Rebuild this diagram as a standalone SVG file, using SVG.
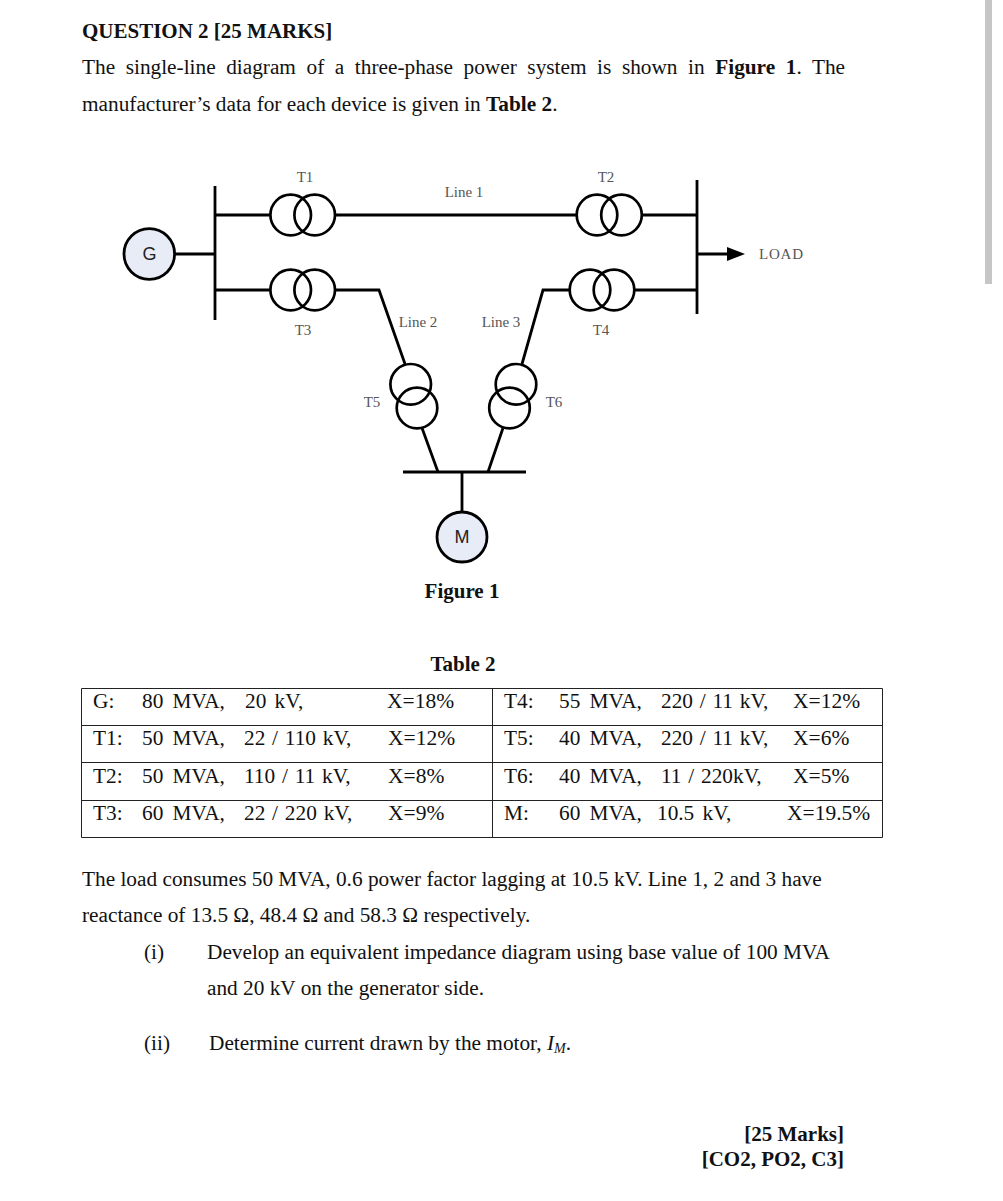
<svg xmlns="http://www.w3.org/2000/svg" width="1003" height="1201" viewBox="0 0 1003 1201">
<style>
text{font-family:"Liberation Serif","Times New Roman",serif;font-size:21.300px;fill:#111}
.b{font-weight:700}
.h{font-size:21px}
.l{font-size:15px;fill:#555}
.m{text-anchor:middle}
.s{font-family:"Liberation Sans",Arial,sans-serif;font-size:18px;fill:#222}
.w{fill:none;stroke:#000;stroke-width:2.800}
.c{fill:none;stroke:#000;stroke-width:2.700}
.n{fill:#e8ecf6;stroke:#000;stroke-width:2.800}
.t{stroke:#222;stroke-width:1;fill:none}
.v{word-spacing:4px}
.k{word-spacing:1.500px}
.u{word-spacing:3px}
.x{font-size:21.500px}
</style>
<rect width="1003" height="1201" fill="#fff"/>
<rect x="985" y="0" width="7" height="284" fill="#c6c6c6"/>
<g id="heading">
<text x="82" y="38" class="b h">QUESTION 2 [25 MARKS]</text>
<text x="82" y="74" word-spacing="5.250">The single-line diagram of a three-phase power system is shown in <tspan class="b">Figure 1</tspan>. The</text>
<text x="82" y="111">manufacturer’s data for each device is given in <tspan class="b">Table 2</tspan>.</text>
</g>
<g id="connectors">
<path class="w" d="M174 254H215M215 215H270M336 215H577M643 215H697M215 290H270M336 290H379L405 364M422 428L438 472M503 428L488 472M522 364L543 290H569M635 290H697M462 472V512M697 254H730"/>
<path d="M727 247L745 254L727 261Z" fill="#000"/>
</g>
<g id="bus-1"><path class="w" d="M215 186V320"/></g>
<g id="bus-2"><path class="w" d="M697 180V314"/></g>
<g id="bus-3"><path class="w" d="M403 472H526"/></g>
<g id="G"><circle class="n" cx="149.300" cy="254" r="25.300"/><text x="149.500" y="260" class="s m">G</text></g>
<g id="M"><circle class="n" cx="462" cy="537" r="25"/><text x="462" y="543" class="s m">M</text></g>
<g id="T1"><circle class="c" cx="290.700" cy="215" r="20.300"/><circle class="c" cx="314.700" cy="215" r="20.300"/><text x="305" y="182" class="l m">T1</text></g>
<g id="T2"><circle class="c" cx="597" cy="215" r="20.300"/><circle class="c" cx="621.500" cy="215" r="20.300"/><text x="606" y="182" class="l m">T2</text></g>
<g id="T3"><circle class="c" cx="290.700" cy="290" r="20.300"/><circle class="c" cx="314.700" cy="290" r="20.300"/><text x="303" y="335" class="l m">T3</text></g>
<g id="T4"><circle class="c" cx="590" cy="290" r="20.300"/><circle class="c" cx="614" cy="290" r="20.300"/><text x="601" y="335" class="l m">T4</text></g>
<g id="T5"><circle class="c" cx="410.700" cy="384.300" r="20.300"/><circle class="c" cx="417" cy="408" r="20.300"/><text x="372" y="407" class="l m">T5</text></g>
<g id="T6"><circle class="c" cx="516" cy="384.300" r="20.300"/><circle class="c" cx="509.500" cy="408" r="20.300"/><text x="554" y="407" class="l m">T6</text></g>
<g id="line-labels">
<text x="464" y="197" class="l m">Line 1</text>
<text x="418" y="327" class="l m">Line 2</text>
<text x="501" y="327" class="l m">Line 3</text>
<text x="759" y="259" class="l" textLength="44">LOAD</text>
</g>
<text x="462" y="598" class="b h m">Figure 1</text>
<text x="463" y="671" class="b h m">Table 2</text>
<g id="table">
<path class="t" d="M81.500 688.500H882.500V837.500H81.500ZM81.500 725.500H882.500M81.500 762.500H882.500M81.500 800.500H882.500M492.500 688.500V837.500"/>
<text x="93" y="708">G:</text><text x="142" y="708" class="v">80 MVA,</text><text x="245" y="708" class="u">20 kV,</text><text x="387" y="708" class="x">X=18%</text>
<text x="93" y="745">T1:</text><text x="142" y="745" class="v">50 MVA,</text><text x="244" y="745" class="k">22 / 110 kV,</text><text x="388" y="745" class="x">X=12%</text>
<text x="93" y="783">T2:</text><text x="142" y="783" class="v">50 MVA,</text><text x="244" y="783" class="k">110 / 11 kV,</text><text x="388" y="783" class="x">X=8%</text>
<text x="93" y="820">T3:</text><text x="142" y="820" class="v">60 MVA,</text><text x="244" y="820" class="k">22 / 220 kV,</text><text x="388" y="820" class="x">X=9%</text>
<text x="504" y="708">T4:</text><text x="559" y="708" class="v">55 MVA,</text><text x="661" y="708" class="k">220 / 11 kV,</text><text x="793" y="708" class="x">X=12%</text>
<text x="504" y="745">T5:</text><text x="559" y="745" class="v">40 MVA,</text><text x="661" y="745" class="k">220 / 11 kV,</text><text x="793" y="745" class="x">X=6%</text>
<text x="504" y="783">T6:</text><text x="559" y="783" class="v">40 MVA,</text><text x="661" y="783" class="k">11 / 220kV,</text><text x="793" y="783" class="x">X=5%</text>
<text x="504" y="820">M:</text><text x="559" y="820" class="v">60 MVA,</text><text x="657" y="820" class="u">10.5 kV,</text><text x="787" y="820" class="x">X=19.5%</text>
</g>
<g id="body">
<text x="82" y="886">The load consumes 50 MVA, 0.6 power factor lagging at 10.5 kV. Line 1, 2 and 3 have</text>
<text x="82" y="922">reactance of 13.5 Ω, 48.4 Ω and 58.3 Ω respectively.</text>
<text x="144" y="959">(i)</text>
<text x="207" y="959">Develop an equivalent impedance diagram using base value of 100 MVA</text>
<text x="207" y="995">and 20 kV on the generator side.</text>
<text x="144" y="1050">(ii)</text>
<text x="209" y="1050">Determine current drawn by the motor, <tspan font-style="italic">I</tspan><tspan font-style="italic" font-size="14" dy="3">M</tspan><tspan dy="-3">.</tspan></text>
<text x="844" y="1141" class="b h" text-anchor="end">[25 Marks]</text>
<text x="844" y="1166" class="b h" text-anchor="end">[CO2, PO2, C3]</text>
</g>
</svg>
